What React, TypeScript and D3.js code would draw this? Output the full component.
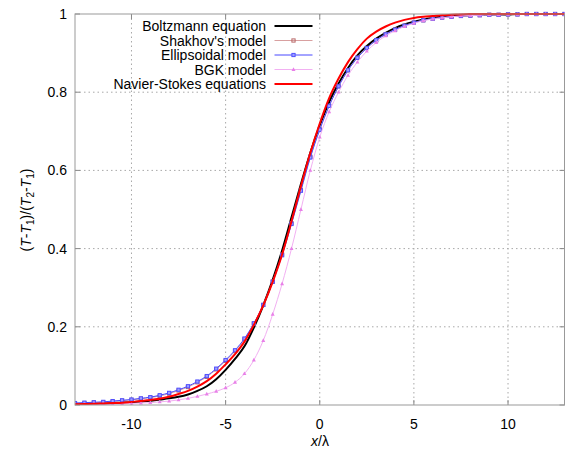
import React from "react";
import * as d3 from "d3";

const xs = [-13,-12.5,-12,-11.5,-11,-10.5,-10,-9.5,-9,-8.5,-8,-7.5,-7,-6.5,-6,-5.5,-5,-4.5,-4,-3.5,-3,-2.5,-2,-1.5,-1,-0.5,0,0.5,1,1.5,2,2.5,3,3.5,4,4.5,5,5.5,6,6.5,7,7.5,8,8.5,9,9.5,10,10.5,11,11.5,12,12.5,13];

const boltzmann = [0.002,0.0025,0.003,0.004,0.005,0.006,0.007,0.009,0.011,0.014,0.017,0.021,0.027,0.036,0.048,0.066,0.09,0.118,0.15,0.198,0.255,0.32,0.395,0.48,0.565,0.645,0.715,0.775,0.822,0.862,0.894,0.918,0.937,0.952,0.964,0.973,0.98,0.986,0.99,0.993,0.995,0.996,0.997,0.998,0.998,0.999,0.999,1,1,1,1,1,1];

const shakhov = [0.004,0.005,0.006,0.007,0.009,0.011,0.013,0.016,0.019,0.023,0.029,0.037,0.046,0.058,0.072,0.091,0.113,0.138,0.168,0.208,0.256,0.316,0.385,0.465,0.55,0.635,0.705,0.765,0.815,0.856,0.888,0.913,0.933,0.948,0.96,0.97,0.978,0.984,0.988,0.991,0.993,0.995,0.996,0.997,0.998,0.998,0.999,0.999,1,1,1,1,1];

const ellipsoidal = [0.005,0.006,0.007,0.008,0.010,0.012,0.014,0.017,0.020,0.025,0.031,0.039,0.048,0.060,0.074,0.093,0.115,0.14,0.17,0.209,0.256,0.315,0.383,0.463,0.548,0.633,0.704,0.765,0.815,0.856,0.888,0.913,0.933,0.948,0.96,0.97,0.978,0.984,0.988,0.991,0.993,0.995,0.996,0.997,0.998,0.998,0.999,0.999,1,1,1,1,1];

const bgk = [0.001,0.0012,0.0015,0.002,0.0025,0.003,0.004,0.005,0.006,0.008,0.01,0.013,0.017,0.022,0.028,0.035,0.044,0.058,0.08,0.115,0.165,0.232,0.31,0.4,0.5,0.6,0.685,0.75,0.8,0.843,0.877,0.905,0.927,0.944,0.957,0.968,0.976,0.983,0.987,0.99,0.993,0.995,0.996,0.997,0.998,0.998,0.999,0.999,1,1,1,1,1];

const navierStokes = [0.002,0.0025,0.003,0.004,0.005,0.006,0.008,0.01,0.013,0.016,0.021,0.028,0.036,0.047,0.061,0.08,0.104,0.13,0.162,0.205,0.255,0.315,0.385,0.47,0.56,0.645,0.72,0.785,0.835,0.877,0.91,0.937,0.955,0.968,0.978,0.985,0.99,0.993,0.995,0.997,0.998,0.999,1,1,1,1,1,1,1,1,1,1,1];

const xTicks = [-10, -5, 0, 5, 10];
const yTicks = [0, 0.2, 0.4, 0.6, 0.8, 1];
const yTickLabels = ["0", "0.2", "0.4", "0.6", "0.8", "1"];

const seriesNames = ["Boltzmann equation", "Shakhov's model", "Ellipsoidal model", "BGK model", "Navier-Stokes equations"];

type Style = { line: string; width: number; marker: null | "sq" | "sqf" | "tri"; mcolor: string };
const styles: Style[] = [
  { line: "#000000", width: 2, marker: null, mcolor: "" },
  { line: "#d8a0a0", width: 1, marker: "sq", mcolor: "#b86868" },
  { line: "#4848ff", width: 1, marker: "sqf", mcolor: "#5050ff" },
  { line: "#f2b0f2", width: 1, marker: "tri", mcolor: "#e880e8" },
  { line: "#ff0000", width: 2, marker: null, mcolor: "" },
];

const W = 574, H = 451;
const M = { left: 75, right: 564.5, top: 14, bottom: 405 };
const FONT = "'Liberation Sans', Arial, Helvetica, sans-serif";

function Marker({ kind, x, y, color }: { kind: string; x: number; y: number; color: string }) {
  if (kind === "sq") return <rect x={x - 1.6} y={y - 1.6} width={3.2} height={3.2} fill="none" stroke={color} strokeWidth={1} />;
  if (kind === "sqf") return <rect x={x - 1.6} y={y - 1.6} width={3.2} height={3.2} fill="#a0a0ff" stroke={color} strokeWidth={1} />;
  return <path d={`M${x},${y - 2.2}L${x + 2},${y + 1.4}L${x - 2},${y + 1.4}Z`} fill={color} />;
}

export default function App() {
  const x = d3.scaleLinear().domain([-13, 13]).range([M.left, M.right]);
  const y = d3.scaleLinear().domain([0, 1]).range([M.bottom, M.top]);
  const data = [boltzmann, shakhov, ellipsoidal, bgk, navierStokes];
  const line = d3.line<number>().x((_, i) => x(xs[i])).y((v) => y(v)).curve(d3.curveMonotoneX);
  const grid = "#a8a8a8";
  const legendY = [26, 40.5, 55, 69.5, 84];

  return (
    <svg width={W} height={H} style={{ position: "absolute", left: 0, top: 0, background: "#fff" }} fontFamily={FONT}>
      <rect width={W} height={H} fill="#fff" />
      {xTicks.map((t) => (
        <line key={"gx" + t} x1={x(t)} x2={x(t)} y1={M.top} y2={M.bottom} stroke={grid} strokeWidth={1} strokeDasharray="1.5,3" />
      ))}
      {yTicks.slice(1, -1).map((t) => (
        <line key={"gy" + t} x1={M.left} x2={M.right} y1={y(t)} y2={y(t)} stroke={grid} strokeWidth={1} strokeDasharray="1.5,3" />
      ))}
      {xTicks.map((t) => (
        <g key={"tx" + t}>
          <line x1={x(t)} x2={x(t)} y1={M.bottom} y2={M.bottom - 5} stroke="#888" />
          <line x1={x(t)} x2={x(t)} y1={M.top} y2={M.top + 5} stroke="#888" />
          <text x={x(t)} y={429} textAnchor="middle" fontSize={14} fill="#000">{t}</text>
        </g>
      ))}
      {yTicks.map((t, i) => (
        <g key={"ty" + t}>
          <line x1={M.left} x2={M.left + 5} y1={y(t)} y2={y(t)} stroke="#888" />
          <line x1={M.right} x2={M.right - 5} y1={y(t)} y2={y(t)} stroke="#888" />
          <text x={67} y={y(t) + 5} textAnchor="end" fontSize={14} fill="#000">{yTickLabels[i]}</text>
        </g>
      ))}
      <defs>
        <clipPath id="plot"><rect x={M.left} y={M.top - 3} width={M.right - M.left} height={M.bottom - M.top + 3} /></clipPath>
      </defs>
      <g clipPath="url(#plot)">
        {data.map((vals, si) => (
          <g key={"s" + si}>
            <path d={line(vals) || ""} fill="none" stroke={styles[si].line} strokeWidth={styles[si].width} />
            {styles[si].marker &&
              vals.map((v, i) => (
                <Marker key={i} kind={styles[si].marker as string} x={x(xs[i])} y={y(v)} color={styles[si].mcolor} />
              ))}
          </g>
        ))}
      </g>
      <rect x={M.left} y={M.top} width={M.right - M.left} height={M.bottom - M.top} fill="none" stroke="#999" strokeWidth={1} />
      {seriesNames.map((n, i) => (
        <g key={"l" + i}>
          <text x={266} y={legendY[i] + 5} textAnchor="end" fontSize={14} fill="#000">{n}</text>
          <line x1={274.5} x2={312.5} y1={legendY[i]} y2={legendY[i]} stroke={styles[i].line} strokeWidth={styles[i].width} />
          {styles[i].marker && <Marker kind={styles[i].marker as string} x={293.5} y={legendY[i]} color={styles[i].mcolor} />}
        </g>
      ))}
      <text x={320} y={446} textAnchor="middle" fontSize={14} fill="#000">
        <tspan fontStyle="italic">x</tspan>/λ
      </text>
      <text transform={`translate(31,210) rotate(-90)`} textAnchor="middle" fontSize={14} fill="#000">
        (<tspan fontStyle="italic">T</tspan>-<tspan fontStyle="italic">T</tspan><tspan fontSize={10} dy={3}>1</tspan><tspan dy={-3}>)/(</tspan><tspan fontStyle="italic">T</tspan><tspan fontSize={10} dy={3}>2</tspan><tspan dy={-3}>-</tspan><tspan fontStyle="italic">T</tspan><tspan fontSize={10} dy={3}>1</tspan><tspan dy={-3}>)</tspan>
      </text>
    </svg>
  );
}
